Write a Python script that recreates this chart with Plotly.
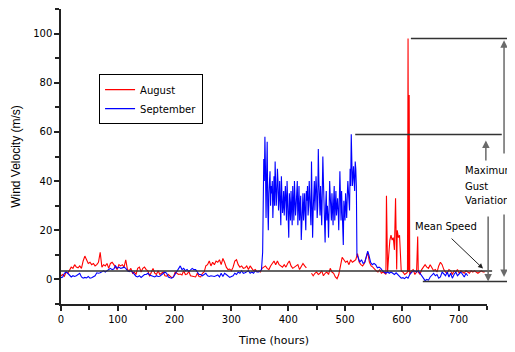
import plotly.graph_objects as go

# ---------------- data ----------------
aug_hours = [0,3,6,9,12,15,18,21,24,27,30,33,36,39,42,45,48,51,54,57,60,63,66,69,72,75,78,81,84,87,
             90,93,96,99,102,105,108,111,114,117,120,123,126,129,132,135,138,141,144,147,150,153,156,159,
             162,165,168,171,174,177,180,183,186,189,192,195,198,201,204,207,210,213,216,219,222,225,228,
             231,234,237,240,243,246,249,252,255,258,261,264,267,270,273,276,279,282,285,288,291,294,297,
             300,303,306,309,312,315,318,321,324,327,330,333,336,339,342,345,348,351,354,357,360,363,366,
             369,372,375,378,381,384,387,390,393,396,399,402,405,408,411,414,417,420,423,426,429,432,436,
             441,444,447,450,453,456,459,462,465,468,471,474,477,480,483,486,489,492,495,498,501,504,507,
             510,513,516,519,522,525,528,531,534,537,540,543,546,549,552,555,558,561,564,567,570,572,573,
             574,575,577,579,581,583,585,587,589,590,591,592,594,596,597,599,602,605,608,610,611,612,613,
             614,617,620,623,626,628,629,632,635,638,641,644,647,650,653,656,659,662,665,668,671,674,677,
             680,683,686,689,692,695,698,701,704,707,710,713,716,719,722,725,728,731,734,737,740,743,746]
aug_speed = [1.5,2,1.3,3,2.5,4,5,4.5,6,5,4.7,5.5,4.5,7.5,9.5,8,6.5,7,6,6.5,5.5,6,7,11,5,6,5.5,6.5,4.5,6.5,
             7,6,5,4,6,5.5,6,5,8,4,3.5,4.5,2.5,3,2,4.5,5,3,4.5,5,4,3.5,1.3,3,
             4.5,2.5,2,3.5,2,2.5,3,1.5,1.3,2,1.2,0.7,1,3,2.5,2,2.2,1.8,3.5,2,2.2,3.2,1.5,
             1.3,1.2,1,2.5,1.2,1,2.5,3,5.5,6,7.5,5.5,7,6,7.5,7,8,6,8.5,7,5,4,4.2,
             3.5,5,7.5,8,6,5,5.5,4.5,4.7,5.5,4,5.5,4.5,3.5,4,3.2,3.4,3,4.5,5,5.5,4.5,4,
             5.5,6.5,7.5,6,7.5,6,5.5,5,6,5,6.5,7.5,5.5,4.5,5,5.5,6,4,5,6.5,5.5,4.7,None,
             2.5,1.5,2.5,3,2,2.5,3.5,1.5,2.5,3,2,4.5,3,2.5,1,0.3,2,5,9,8,7,7.5,6,
             8,7,7.5,8,10.5,7,6,5.5,6.5,9,11,7,5.5,5,4,3.5,3,4,2.5,3,2.5,2,34,
             4,3,10,16,18,16,17,12,33,17,4,20,17,18,9.5,3.4,3,2,2.5,3,98,3,75,
             2,3.5,4,2,3,17.5,3,2,4,5,6,5,4.5,6,5,3.5,4,3,5.5,7,6,4,3,
             2.5,4,3.5,2,3.5,3,4,2.5,3.5,3,2.5,3.5,3,2.5,3.5,3,3.5,3,2.5,3,3.5,3,3]

# September: calm first part (every 3 h), storm (hourly), calm end
sep_hours_calm1 = [0,3,6,9,12,15,18,21,24,27,30,33,36,39,42,45,48,51,54,57,60,63,66,69,72,75,78,81,84,87,
                   90,93,96,99,102,105,108,111,114,117,120,123,126,129,132,135,138,141,144,147,150,153,156,159,
                   162,165,168,171,174,177,180,183,186,189,192,195,198,201,204,207,210,213,216,219,222,225,228,
                   231,234,237,240,243,246,249,252,255,258,261,264,267,270,273,276,279,282,285,288,291,294,297,
                   300,303,306,309,312,315,318,321,324,327,330,333,336,339,342,345,348,351,353]
sep_speed_calm1 = [0.7,1,2.5,3,2.5,1.5,1,1.5,1.2,1.5,2,2.5,1,0.5,0.8,0.6,1.2,0.5,0.7,1,1.5,2.7,2.5,2.7,3.2,3.5,3,3.6,4,4.5,
                   4,4.2,5.5,4.5,5,4.5,4.7,5,4.5,3.5,3.2,3.5,3,2,1.3,1,1.5,0.8,1.3,2,2,2.5,1.8,1.5,
                   1.3,1,1.5,1.2,1.3,2,2.5,3,2.5,1,0.7,0.5,1,2,3.5,4.5,5.5,4,4.5,3.5,4,3.2,4,
                   4.5,4,4,3,2,2,1.5,2,2.5,1.5,1.2,1.5,1.3,1.2,1.5,1.8,1,2.5,1.2,2.5,2,1.5,0.8,
                   1.2,1.5,2.5,2,3,2.5,3.5,2.5,2.7,3,3.5,2.5,3,2.5,3.5,3,3,3.5,4]
sep_hours_storm = list(range(355, 522))
sep_speed_storm = [11,30,49,40,58,45,25,42,56,30,
                   20,35,40,44,30,38,35,40,25,34,
                   42,30,48,38,30,36,45,40,28,33,
                   40,30,22,42,35,27,30,36,26,30,
                   38,32,24,40,33,25,17,35,28,24,
                   36,30,22,38,30,24,40,34,26,30,
                   34,40,22,30,38,24,28,34,16,26,
                   30,35,24,28,35,26,20,36,32,38,
                   26,30,40,34,30,22,48,30,17,28,
                   35,40,28,33,42,36,25,30,53,40,
                   30,26,38,32,22,36,50,40,28,22,
                   15,30,36,24,30,26,17,28,40,34,
                   28,24,35,30,22,32,38,24,30,36,
                   26,30,33,28,20,32,44,34,24,36,
                   30,22,14,32,27,24,35,30,25,34,
                   40,36,30,28,45,38,59,50,38,42,
                   46,40,36,48,45,38,10]
sep_hours_calm2 = [523,526,529,532,535,538,540,542,545,548,551,554,557,560,563,566,569,572,575,578,581,584,587,
                   590,593,596,599,602,605,608,611,614,617,620,623,626,629,632,635,638,641,644,647,650,653,656,
                   659,662,665,668,671,674,677,680,683,686,689,692,695,698,701,704,707,710,713,716]
sep_speed_calm2 = [9,7,8,6.5,7,10,11.5,10,7,6,6.5,6,4.7,5,4.5,3.5,3,2.5,3,2.5,3,2.5,2,
                   2.7,2,1,0.5,0.7,0.3,1,0.5,2,3,3.5,3.4,3,3.5,2.5,1,0,-0.5,0,-0.3,1,2,2.5,
                   1.5,2,0.5,1,3,2,1.5,3,1,2.5,0.5,2,3,1.5,2.5,3,2,1,2.5,1.5]

sep_hours = sep_hours_calm1 + sep_hours_storm + sep_hours_calm2
sep_speed = sep_speed_calm1 + sep_speed_storm + sep_speed_calm2

x_tick_values = [0, 100, 200, 300, 400, 500, 600, 700]
y_tick_values = [0, 20, 40, 60, 80, 100]

mean_speed = 3.4
max_gust_aug = 98
max_gust_sep = 59
min_level = -0.8

# ---------------- figure ----------------
# page body has an 8px margin, so the figure origin sits at (8, 8) in the window
X0, X1 = 0, 750
Y0, Y1 = -10, 110
W, H = 507, 344
L, T = 53, 1
PW, PH = 426, 295
R, B = W - L - PW, H - T - PH


def px(x):
    return (x - X0) / (X1 - X0)


def py(y):
    return (y - Y0) / (Y1 - Y0)


SX = PW / (X1 - X0)   # pixels per hour
SY = PH / (Y1 - Y0)   # pixels per m/s

fig = go.Figure()
fig.add_trace(go.Scatter(x=aug_hours, y=aug_speed, mode="lines", name="August",
                         line=dict(color="#ff0000", width=1.1), connectgaps=False))
fig.add_trace(go.Scatter(x=sep_hours, y=sep_speed, mode="lines", name="September",
                         line=dict(color="#0000ff", width=1.1)))

line_col = "#333333"
shapes = []
for (xa, xb, yv) in [(0, 759, mean_speed), (616, 792, max_gust_aug),
                     (518, 776, max_gust_sep), (637, 792, min_level)]:
    shapes.append(dict(type="line", xref="paper", yref="paper",
                       x0=px(xa), x1=px(xb), y0=py(yv), y1=py(yv),
                       line=dict(color=line_col, width=1.5)))

annotations = []


def arrow(hx, hy, tx, ty, col="#6a6a6a", w=1.5):
    annotations.append(dict(xref="paper", yref="paper", x=px(hx), y=py(hy),
                            ax=(tx - hx) * SX, ay=-(ty - hy) * SY,
                            showarrow=True, arrowhead=2, arrowsize=1, arrowwidth=w,
                            arrowcolor=col, text="", standoff=0))


arrow(780, 97.3, 780, 50.6)
arrow(780, 1.0, 780, 27.0)
arrow(748, 56.5, 748, 47.8)
arrow(752, -0.8, 752, 26.2)
arrow(743, 4.4, 685, 17.2, col="#222222", w=1)

txt_font = dict(family="DejaVu Sans", size=10, color="black")
for t, xv, yv in [("Maximum", 708, 44.5), ("Gust", 708, 38.0),
                  ("Variation", 708, 31.9), ("Mean Speed", 620, 21.7)]:
    annotations.append(dict(xref="paper", yref="paper", x=px(xv), y=py(yv), text=t,
                            showarrow=False, xanchor="left", yanchor="middle",
                            font=txt_font))

fig.update_layout(
    width=W, height=H,
    margin=dict(l=L, r=R, t=T, b=B, autoexpand=False),
    paper_bgcolor="white", plot_bgcolor="white",
    showlegend=True,
    legend=dict(x=px(67), y=py(83.5), xanchor="left", yanchor="top",
                bgcolor="white", bordercolor="black", borderwidth=1,
                font=dict(family="DejaVu Sans", size=10, color="black"),
                tracegroupgap=0, itemwidth=30),
    shapes=shapes,
    annotations=annotations,
    xaxis=dict(range=[X0, X1], tickvals=x_tick_values, ticks="outside", ticklen=5,
               tickwidth=1.5, tickcolor="#222", showline=True, linecolor="#222",
               linewidth=1.5, showgrid=False, zeroline=False,
               tickfont=dict(family="DejaVu Sans", size=10, color="black"),
               minor=dict(dtick=50, tick0=0, ticks="outside", ticklen=4,
                          tickwidth=1.5, tickcolor="#222", showgrid=False),
               title=dict(text="Time (hours)", standoff=13,
                          font=dict(family="DejaVu Sans", size=11, color="black"))),
    yaxis=dict(range=[Y0, Y1], tickvals=y_tick_values, ticks="outside", ticklen=5,
               tickwidth=1.5, tickcolor="#222", showline=True, linecolor="#222",
               linewidth=1.5, showgrid=False, zeroline=False,
               tickfont=dict(family="DejaVu Sans", size=10, color="black"),
               minor=dict(dtick=10, tick0=0, ticks="outside", ticklen=4,
                          tickwidth=1.5, tickcolor="#222", showgrid=False),
               title=dict(text="Wind Velocity (m/s)", standoff=10,
                          font=dict(family="Liberation Sans", size=12, color="black"))),
)

fig.write_html("out.html")
